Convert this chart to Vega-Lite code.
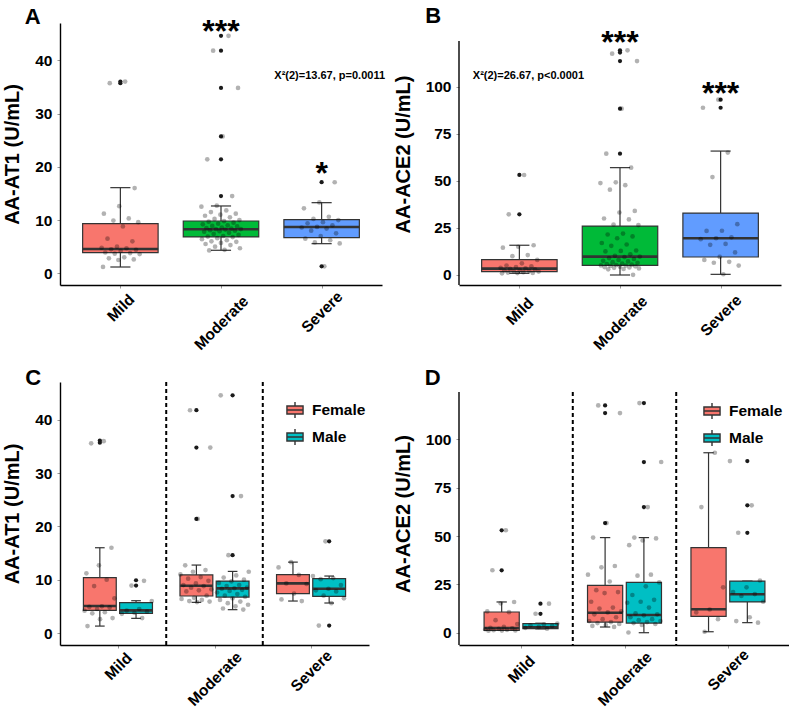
{
  "$schema": "https://vega.github.io/schema/vega-lite/v6.json",
  "background": "white",
  "padding": {"left": 2, "top": 5, "right": 0, "bottom": 0},
  "config": {
    "font": "Liberation Sans",
    "view": {"stroke": null},
    "axis": {
      "grid": false,
      "domainColor": "#000000",
      "domainWidth": 1.4,
      "tickColor": "#999999",
      "tickSize": 3,
      "labelFont": "Liberation Sans",
      "labelFontWeight": "bold",
      "labelColor": "#000000",
      "titleFont": "Liberation Sans",
      "titleFontWeight": "bold",
      "titleFontSize": 20,
      "titleColor": "#000000"
    },
    "axisX": {"labelFontSize": 15.5, "labelAngle": -45, "labelAlign": "center", "labelBaseline": "middle"},
    "axisY": {"labelFontSize": 15.5, "labelPadding": 5, "titlePadding": 12},
    "legend": {
      "symbolType": "M-1,-0.5H1V0.5H-1Z M-1,0H1 M0,-0.5V-1 M0,0.5V1",
      "symbolSize": 260,
      "symbolStrokeColor": "#333333",
      "symbolStrokeWidth": 1.4,
      "labelFont": "Liberation Sans",
      "labelFontSize": 15.5,
      "labelFontWeight": "bold",
      "labelColor": "#000000",
      "rowPadding": 5,
      "labelOffset": 8
    }
  },
  "datasets": {
    "A_box": [
      {"g": "Mild", "lo": 1.18, "q1": 3.87, "med": 4.56, "q3": 9.31, "hi": 16.08},
      {"g": "Moderate", "lo": 4.32, "q1": 6.82, "med": 8.26, "q3": 9.82, "hi": 12.64},
      {"g": "Severe", "lo": 5.56, "q1": 6.69, "med": 8.7, "q3": 10.07, "hi": 13.26}
    ],
    "A_out": [
      {"g": "Mild", "v": 36.0}, {"g": "Mild", "v": 35.7},
      {"g": "Moderate", "v": 44.6}, {"g": "Moderate", "v": 41.8}, {"g": "Moderate", "v": 34.8},
      {"g": "Moderate", "v": 25.7}, {"g": "Moderate", "v": 21.4}, {"g": "Moderate", "v": 14.5},
      {"g": "Severe", "v": 17.1}, {"g": "Severe", "v": 1.3}
    ],
    "A_pts": [
      {"g": "Mild", "v": 36.0}, {"g": "Mild", "v": 35.7}, {"g": "Mild", "v": 16.0}, {"g": "Mild", "v": 12.6},
      {"g": "Mild", "v": 11.2}, {"g": "Mild", "v": 10.3}, {"g": "Mild", "v": 9.9}, {"g": "Mild", "v": 9.6},
      {"g": "Mild", "v": 8.8}, {"g": "Mild", "v": 6.5}, {"g": "Mild", "v": 6.0}, {"g": "Mild", "v": 5.0},
      {"g": "Mild", "v": 4.8}, {"g": "Mild", "v": 4.7}, {"g": "Mild", "v": 4.5}, {"g": "Mild", "v": 4.4},
      {"g": "Mild", "v": 4.2}, {"g": "Mild", "v": 3.9}, {"g": "Mild", "v": 3.8}, {"g": "Mild", "v": 3.7},
      {"g": "Mild", "v": 3.6}, {"g": "Mild", "v": 3.0}, {"g": "Mild", "v": 2.8}, {"g": "Mild", "v": 2.6},
      {"g": "Mild", "v": 2.5}, {"g": "Mild", "v": 1.2},
      {"g": "Moderate", "v": 44.6}, {"g": "Moderate", "v": 41.8}, {"g": "Moderate", "v": 34.8}, {"g": "Moderate", "v": 25.7},
      {"g": "Moderate", "v": 21.4}, {"g": "Moderate", "v": 14.5}, {"g": "Moderate", "v": 12.7}, {"g": "Moderate", "v": 12.5},
      {"g": "Moderate", "v": 11.8}, {"g": "Moderate", "v": 11.5}, {"g": "Moderate", "v": 11.2}, {"g": "Moderate", "v": 11.0},
      {"g": "Moderate", "v": 10.8}, {"g": "Moderate", "v": 10.5}, {"g": "Moderate", "v": 10.2}, {"g": "Moderate", "v": 10.0},
      {"g": "Moderate", "v": 9.8}, {"g": "Moderate", "v": 9.7}, {"g": "Moderate", "v": 9.5}, {"g": "Moderate", "v": 9.3},
      {"g": "Moderate", "v": 9.2}, {"g": "Moderate", "v": 9.0}, {"g": "Moderate", "v": 8.9}, {"g": "Moderate", "v": 8.8},
      {"g": "Moderate", "v": 8.6}, {"g": "Moderate", "v": 8.5}, {"g": "Moderate", "v": 8.4}, {"g": "Moderate", "v": 8.3},
      {"g": "Moderate", "v": 8.3}, {"g": "Moderate", "v": 8.2}, {"g": "Moderate", "v": 8.1}, {"g": "Moderate", "v": 8.0},
      {"g": "Moderate", "v": 7.9}, {"g": "Moderate", "v": 7.8}, {"g": "Moderate", "v": 7.6}, {"g": "Moderate", "v": 7.4},
      {"g": "Moderate", "v": 7.2}, {"g": "Moderate", "v": 7.0}, {"g": "Moderate", "v": 6.9}, {"g": "Moderate", "v": 6.8},
      {"g": "Moderate", "v": 6.6}, {"g": "Moderate", "v": 6.4}, {"g": "Moderate", "v": 6.2}, {"g": "Moderate", "v": 6.0},
      {"g": "Moderate", "v": 5.9}, {"g": "Moderate", "v": 5.7}, {"g": "Moderate", "v": 5.5}, {"g": "Moderate", "v": 5.3},
      {"g": "Moderate", "v": 5.0}, {"g": "Moderate", "v": 4.7}, {"g": "Moderate", "v": 4.4}, {"g": "Moderate", "v": 4.3},
      {"g": "Severe", "v": 17.1}, {"g": "Severe", "v": 13.3}, {"g": "Severe", "v": 12.2}, {"g": "Severe", "v": 10.6},
      {"g": "Severe", "v": 10.2}, {"g": "Severe", "v": 10.0}, {"g": "Severe", "v": 9.6}, {"g": "Severe", "v": 9.4},
      {"g": "Severe", "v": 9.0}, {"g": "Severe", "v": 8.7}, {"g": "Severe", "v": 8.6}, {"g": "Severe", "v": 8.4},
      {"g": "Severe", "v": 8.0}, {"g": "Severe", "v": 7.5}, {"g": "Severe", "v": 7.0}, {"g": "Severe", "v": 6.5},
      {"g": "Severe", "v": 6.2}, {"g": "Severe", "v": 5.8}, {"g": "Severe", "v": 5.6}, {"g": "Severe", "v": 1.3}
    ],
    "B_box": [
      {"g": "Mild", "lo": 0.9, "q1": 1.77, "med": 3.36, "q3": 8.14, "hi": 15.8},
      {"g": "Moderate", "lo": 0.0, "q1": 5.13, "med": 9.74, "q3": 26.0, "hi": 57.0},
      {"g": "Severe", "lo": 0.35, "q1": 9.56, "med": 19.5, "q3": 32.9, "hi": 65.8}
    ],
    "B_out": [
      {"g": "Mild", "v": 53.1}, {"g": "Mild", "v": 32.2},
      {"g": "Moderate", "v": 119.3}, {"g": "Moderate", "v": 118.1}, {"g": "Moderate", "v": 113.6},
      {"g": "Moderate", "v": 88.3}, {"g": "Moderate", "v": 64.4},
      {"g": "Severe", "v": 93.1}, {"g": "Severe", "v": 88.8}
    ],
    "B_pts": [
      {"g": "Mild", "v": 53.1}, {"g": "Mild", "v": 32.2}, {"g": "Mild", "v": 15.8}, {"g": "Mild", "v": 15.0},
      {"g": "Mild", "v": 14.5}, {"g": "Mild", "v": 10.6}, {"g": "Mild", "v": 10.0}, {"g": "Mild", "v": 8.0},
      {"g": "Mild", "v": 6.2}, {"g": "Mild", "v": 5.0}, {"g": "Mild", "v": 4.6}, {"g": "Mild", "v": 4.2},
      {"g": "Mild", "v": 3.8}, {"g": "Mild", "v": 3.5}, {"g": "Mild", "v": 3.3}, {"g": "Mild", "v": 3.0},
      {"g": "Mild", "v": 2.8}, {"g": "Mild", "v": 2.5}, {"g": "Mild", "v": 2.2}, {"g": "Mild", "v": 2.0},
      {"g": "Mild", "v": 1.8}, {"g": "Mild", "v": 1.5}, {"g": "Mild", "v": 1.3}, {"g": "Mild", "v": 1.1},
      {"g": "Mild", "v": 1.0}, {"g": "Mild", "v": 0.9},
      {"g": "Moderate", "v": 119.3}, {"g": "Moderate", "v": 117.5}, {"g": "Moderate", "v": 113.6}, {"g": "Moderate", "v": 88.3},
      {"g": "Moderate", "v": 64.4}, {"g": "Moderate", "v": 57.0}, {"g": "Moderate", "v": 49.2}, {"g": "Moderate", "v": 48.8},
      {"g": "Moderate", "v": 47.7}, {"g": "Moderate", "v": 45.3}, {"g": "Moderate", "v": 34.0}, {"g": "Moderate", "v": 33.2},
      {"g": "Moderate", "v": 30.0}, {"g": "Moderate", "v": 29.5}, {"g": "Moderate", "v": 26.8}, {"g": "Moderate", "v": 26.5},
      {"g": "Moderate", "v": 22.0}, {"g": "Moderate", "v": 21.5}, {"g": "Moderate", "v": 20.5}, {"g": "Moderate", "v": 19.5},
      {"g": "Moderate", "v": 17.0}, {"g": "Moderate", "v": 16.2}, {"g": "Moderate", "v": 15.5}, {"g": "Moderate", "v": 13.0},
      {"g": "Moderate", "v": 12.8}, {"g": "Moderate", "v": 12.5}, {"g": "Moderate", "v": 11.0}, {"g": "Moderate", "v": 10.2},
      {"g": "Moderate", "v": 9.8}, {"g": "Moderate", "v": 9.5}, {"g": "Moderate", "v": 9.0}, {"g": "Moderate", "v": 8.5},
      {"g": "Moderate", "v": 8.0}, {"g": "Moderate", "v": 7.5}, {"g": "Moderate", "v": 7.2}, {"g": "Moderate", "v": 6.8},
      {"g": "Moderate", "v": 6.5}, {"g": "Moderate", "v": 6.0}, {"g": "Moderate", "v": 5.8}, {"g": "Moderate", "v": 5.5},
      {"g": "Moderate", "v": 5.3}, {"g": "Moderate", "v": 5.1}, {"g": "Moderate", "v": 5.0}, {"g": "Moderate", "v": 4.8},
      {"g": "Moderate", "v": 4.6}, {"g": "Moderate", "v": 4.4}, {"g": "Moderate", "v": 4.2}, {"g": "Moderate", "v": 4.0},
      {"g": "Moderate", "v": 3.8}, {"g": "Moderate", "v": 3.5}, {"g": "Moderate", "v": 3.2}, {"g": "Moderate", "v": 3.0},
      {"g": "Moderate", "v": 0.1},
      {"g": "Severe", "v": 93.1}, {"g": "Severe", "v": 88.8}, {"g": "Severe", "v": 65.0}, {"g": "Severe", "v": 52.0},
      {"g": "Severe", "v": 27.0}, {"g": "Severe", "v": 23.5}, {"g": "Severe", "v": 23.4}, {"g": "Severe", "v": 20.0},
      {"g": "Severe", "v": 19.5}, {"g": "Severe", "v": 19.0}, {"g": "Severe", "v": 16.5}, {"g": "Severe", "v": 16.0},
      {"g": "Severe", "v": 12.0}, {"g": "Severe", "v": 9.6}, {"g": "Severe", "v": 8.0}, {"g": "Severe", "v": 7.0},
      {"g": "Severe", "v": 6.5}, {"g": "Severe", "v": 5.0}, {"g": "Severe", "v": 0.4}
    ],
    "C_box": [
      {"g": "Mild", "s": "Female", "lo": 1.3, "q1": 4.25, "med": 5.06, "q3": 10.4, "hi": 16.0},
      {"g": "Mild", "s": "Male", "lo": 2.75, "q1": 3.69, "med": 4.25, "q3": 5.7, "hi": 6.06},
      {"g": "Moderate", "s": "Female", "lo": 5.75, "q1": 6.94, "med": 8.88, "q3": 10.9, "hi": 12.75},
      {"g": "Moderate", "s": "Male", "lo": 4.38, "q1": 6.75, "med": 8.38, "q3": 9.75, "hi": 11.56},
      {"g": "Severe", "s": "Female", "lo": 6.0, "q1": 7.38, "med": 9.31, "q3": 10.94, "hi": 13.3},
      {"g": "Severe", "s": "Male", "lo": 5.63, "q1": 6.88, "med": 8.31, "q3": 10.19, "hi": 10.69}
    ],
    "C_out": [
      {"g": "Mild", "s": "Female", "v": 36.1}, {"g": "Mild", "s": "Female", "v": 35.7},
      {"g": "Mild", "s": "Male", "v": 9.9}, {"g": "Mild", "s": "Male", "v": 8.9},
      {"g": "Moderate", "s": "Female", "v": 41.8}, {"g": "Moderate", "s": "Female", "v": 34.8}, {"g": "Moderate", "s": "Female", "v": 21.4},
      {"g": "Moderate", "s": "Male", "v": 44.6}, {"g": "Moderate", "s": "Male", "v": 25.7}, {"g": "Moderate", "s": "Male", "v": 14.6},
      {"g": "Severe", "s": "Male", "v": 17.2}, {"g": "Severe", "s": "Male", "v": 1.4}
    ],
    "C_pts": [
      {"g": "Mild", "s": "Female", "v": 36.0}, {"g": "Mild", "s": "Female", "v": 35.6}, {"g": "Mild", "s": "Female", "v": 16.0},
      {"g": "Mild", "s": "Female", "v": 12.7}, {"g": "Mild", "s": "Female", "v": 11.2}, {"g": "Mild", "s": "Female", "v": 10.0},
      {"g": "Mild", "s": "Female", "v": 8.8}, {"g": "Mild", "s": "Female", "v": 6.5}, {"g": "Mild", "s": "Female", "v": 5.0},
      {"g": "Mild", "s": "Female", "v": 4.9}, {"g": "Mild", "s": "Female", "v": 4.8}, {"g": "Mild", "s": "Female", "v": 4.5},
      {"g": "Mild", "s": "Female", "v": 4.2}, {"g": "Mild", "s": "Female", "v": 3.9}, {"g": "Mild", "s": "Female", "v": 3.7},
      {"g": "Mild", "s": "Female", "v": 2.8}, {"g": "Mild", "s": "Female", "v": 2.6}, {"g": "Mild", "s": "Female", "v": 1.3},
      {"g": "Mild", "s": "Male", "v": 9.8}, {"g": "Mild", "s": "Male", "v": 8.9}, {"g": "Mild", "s": "Male", "v": 6.0},
      {"g": "Mild", "s": "Male", "v": 4.5}, {"g": "Mild", "s": "Male", "v": 4.2}, {"g": "Mild", "s": "Male", "v": 4.0},
      {"g": "Mild", "s": "Male", "v": 3.8}, {"g": "Mild", "s": "Male", "v": 3.6}, {"g": "Mild", "s": "Male", "v": 2.8},
      {"g": "Moderate", "s": "Female", "v": 41.8}, {"g": "Moderate", "s": "Female", "v": 34.8}, {"g": "Moderate", "s": "Female", "v": 21.4},
      {"g": "Moderate", "s": "Female", "v": 12.7}, {"g": "Moderate", "s": "Female", "v": 11.8}, {"g": "Moderate", "s": "Female", "v": 11.5},
      {"g": "Moderate", "s": "Female", "v": 11.0}, {"g": "Moderate", "s": "Female", "v": 10.5}, {"g": "Moderate", "s": "Female", "v": 10.2},
      {"g": "Moderate", "s": "Female", "v": 9.8}, {"g": "Moderate", "s": "Female", "v": 9.3}, {"g": "Moderate", "s": "Female", "v": 9.0},
      {"g": "Moderate", "s": "Female", "v": 8.8}, {"g": "Moderate", "s": "Female", "v": 8.5}, {"g": "Moderate", "s": "Female", "v": 8.2},
      {"g": "Moderate", "s": "Female", "v": 8.0}, {"g": "Moderate", "s": "Female", "v": 7.8}, {"g": "Moderate", "s": "Female", "v": 7.0},
      {"g": "Moderate", "s": "Female", "v": 6.6}, {"g": "Moderate", "s": "Female", "v": 6.4}, {"g": "Moderate", "s": "Female", "v": 6.2},
      {"g": "Moderate", "s": "Female", "v": 6.0}, {"g": "Moderate", "s": "Female", "v": 5.9}, {"g": "Moderate", "s": "Female", "v": 5.8},
      {"g": "Moderate", "s": "Male", "v": 44.6}, {"g": "Moderate", "s": "Male", "v": 25.7}, {"g": "Moderate", "s": "Male", "v": 14.6},
      {"g": "Moderate", "s": "Male", "v": 11.5}, {"g": "Moderate", "s": "Male", "v": 10.8}, {"g": "Moderate", "s": "Male", "v": 10.4},
      {"g": "Moderate", "s": "Male", "v": 10.0}, {"g": "Moderate", "s": "Male", "v": 9.7}, {"g": "Moderate", "s": "Male", "v": 9.4},
      {"g": "Moderate", "s": "Male", "v": 9.0}, {"g": "Moderate", "s": "Male", "v": 8.8}, {"g": "Moderate", "s": "Male", "v": 8.5},
      {"g": "Moderate", "s": "Male", "v": 8.4}, {"g": "Moderate", "s": "Male", "v": 8.3}, {"g": "Moderate", "s": "Male", "v": 8.1},
      {"g": "Moderate", "s": "Male", "v": 7.9}, {"g": "Moderate", "s": "Male", "v": 7.6}, {"g": "Moderate", "s": "Male", "v": 7.3},
      {"g": "Moderate", "s": "Male", "v": 7.0}, {"g": "Moderate", "s": "Male", "v": 6.8}, {"g": "Moderate", "s": "Male", "v": 6.5},
      {"g": "Moderate", "s": "Male", "v": 6.2}, {"g": "Moderate", "s": "Male", "v": 5.9}, {"g": "Moderate", "s": "Male", "v": 5.6},
      {"g": "Moderate", "s": "Male", "v": 5.3}, {"g": "Moderate", "s": "Male", "v": 5.0}, {"g": "Moderate", "s": "Male", "v": 4.6},
      {"g": "Moderate", "s": "Male", "v": 4.4},
      {"g": "Severe", "s": "Female", "v": 13.3}, {"g": "Severe", "s": "Female", "v": 12.3}, {"g": "Severe", "s": "Female", "v": 10.9},
      {"g": "Severe", "s": "Female", "v": 9.3}, {"g": "Severe", "s": "Female", "v": 9.2}, {"g": "Severe", "s": "Female", "v": 7.4},
      {"g": "Severe", "s": "Female", "v": 6.3}, {"g": "Severe", "s": "Female", "v": 6.0},
      {"g": "Severe", "s": "Male", "v": 17.2}, {"g": "Severe", "s": "Male", "v": 10.7}, {"g": "Severe", "s": "Male", "v": 10.3},
      {"g": "Severe", "s": "Male", "v": 10.1}, {"g": "Severe", "s": "Male", "v": 9.0}, {"g": "Severe", "s": "Male", "v": 8.3},
      {"g": "Severe", "s": "Male", "v": 8.0}, {"g": "Severe", "s": "Male", "v": 7.8}, {"g": "Severe", "s": "Male", "v": 7.0},
      {"g": "Severe", "s": "Male", "v": 6.5}, {"g": "Severe", "s": "Male", "v": 5.6}, {"g": "Severe", "s": "Male", "v": 1.4}
    ],
    "D_box": [
      {"g": "Mild", "s": "Female", "lo": 1.2, "q1": 1.2, "med": 2.4, "q3": 10.7, "hi": 15.9},
      {"g": "Mild", "s": "Male", "lo": 2.0, "q1": 2.07, "med": 2.76, "q3": 4.66, "hi": 4.9},
      {"g": "Moderate", "s": "Female", "lo": 2.95, "q1": 5.5, "med": 10.35, "q3": 24.5, "hi": 49.2},
      {"g": "Moderate", "s": "Male", "lo": 0.0, "q1": 5.0, "med": 9.15, "q3": 26.07, "hi": 49.2},
      {"g": "Severe", "s": "Female", "lo": 0.5, "q1": 8.5, "med": 12.1, "q3": 44.0, "hi": 93.1},
      {"g": "Severe", "s": "Male", "lo": 5.2, "q1": 15.9, "med": 19.9, "q3": 26.7, "hi": 26.7}
    ],
    "D_out": [
      {"g": "Mild", "s": "Female", "v": 53.0}, {"g": "Mild", "s": "Female", "v": 32.3},
      {"g": "Mild", "s": "Male", "v": 15.0}, {"g": "Mild", "s": "Male", "v": 9.8},
      {"g": "Moderate", "s": "Female", "v": 117.6}, {"g": "Moderate", "s": "Female", "v": 113.6}, {"g": "Moderate", "s": "Female", "v": 56.7},
      {"g": "Moderate", "s": "Male", "v": 118.8}, {"g": "Moderate", "s": "Male", "v": 88.3}, {"g": "Moderate", "s": "Male", "v": 65.0},
      {"g": "Severe", "s": "Male", "v": 88.8}, {"g": "Severe", "s": "Male", "v": 65.9}, {"g": "Severe", "s": "Male", "v": 51.7}
    ],
    "D_pts": [
      {"g": "Mild", "s": "Female", "v": 53.0}, {"g": "Mild", "s": "Female", "v": 32.3}, {"g": "Mild", "s": "Female", "v": 15.9},
      {"g": "Mild", "s": "Female", "v": 15.2}, {"g": "Mild", "s": "Female", "v": 11.0}, {"g": "Mild", "s": "Female", "v": 10.6},
      {"g": "Mild", "s": "Female", "v": 6.5}, {"g": "Mild", "s": "Female", "v": 4.5}, {"g": "Mild", "s": "Female", "v": 3.0},
      {"g": "Mild", "s": "Female", "v": 2.5}, {"g": "Mild", "s": "Female", "v": 2.2}, {"g": "Mild", "s": "Female", "v": 2.0},
      {"g": "Mild", "s": "Female", "v": 1.8}, {"g": "Mild", "s": "Female", "v": 1.5}, {"g": "Mild", "s": "Female", "v": 1.3},
      {"g": "Mild", "s": "Female", "v": 1.2}, {"g": "Mild", "s": "Female", "v": 1.1}, {"g": "Mild", "s": "Female", "v": 1.0},
      {"g": "Mild", "s": "Male", "v": 15.0}, {"g": "Mild", "s": "Male", "v": 9.8}, {"g": "Mild", "s": "Male", "v": 4.7},
      {"g": "Mild", "s": "Male", "v": 4.2}, {"g": "Mild", "s": "Male", "v": 3.8}, {"g": "Mild", "s": "Male", "v": 3.5},
      {"g": "Mild", "s": "Male", "v": 3.0}, {"g": "Mild", "s": "Male", "v": 2.5}, {"g": "Mild", "s": "Male", "v": 2.1},
      {"g": "Moderate", "s": "Female", "v": 117.6}, {"g": "Moderate", "s": "Female", "v": 113.6}, {"g": "Moderate", "s": "Female", "v": 56.7},
      {"g": "Moderate", "s": "Female", "v": 49.2}, {"g": "Moderate", "s": "Female", "v": 34.5}, {"g": "Moderate", "s": "Female", "v": 33.8},
      {"g": "Moderate", "s": "Female", "v": 30.0}, {"g": "Moderate", "s": "Female", "v": 26.5}, {"g": "Moderate", "s": "Female", "v": 22.0},
      {"g": "Moderate", "s": "Female", "v": 21.0}, {"g": "Moderate", "s": "Female", "v": 20.5}, {"g": "Moderate", "s": "Female", "v": 16.0},
      {"g": "Moderate", "s": "Female", "v": 13.0}, {"g": "Moderate", "s": "Female", "v": 12.5}, {"g": "Moderate", "s": "Female", "v": 11.0},
      {"g": "Moderate", "s": "Female", "v": 10.5}, {"g": "Moderate", "s": "Female", "v": 9.5}, {"g": "Moderate", "s": "Female", "v": 8.0},
      {"g": "Moderate", "s": "Female", "v": 7.0}, {"g": "Moderate", "s": "Female", "v": 6.0}, {"g": "Moderate", "s": "Female", "v": 5.5},
      {"g": "Moderate", "s": "Female", "v": 5.0}, {"g": "Moderate", "s": "Female", "v": 4.5}, {"g": "Moderate", "s": "Female", "v": 4.0},
      {"g": "Moderate", "s": "Female", "v": 3.5}, {"g": "Moderate", "s": "Female", "v": 3.0},
      {"g": "Moderate", "s": "Male", "v": 118.8}, {"g": "Moderate", "s": "Male", "v": 88.3}, {"g": "Moderate", "s": "Male", "v": 65.0},
      {"g": "Moderate", "s": "Male", "v": 49.2}, {"g": "Moderate", "s": "Male", "v": 48.8}, {"g": "Moderate", "s": "Male", "v": 47.7},
      {"g": "Moderate", "s": "Male", "v": 45.3}, {"g": "Moderate", "s": "Male", "v": 30.0}, {"g": "Moderate", "s": "Male", "v": 29.5},
      {"g": "Moderate", "s": "Male", "v": 26.0}, {"g": "Moderate", "s": "Male", "v": 24.0}, {"g": "Moderate", "s": "Male", "v": 19.5},
      {"g": "Moderate", "s": "Male", "v": 17.0}, {"g": "Moderate", "s": "Male", "v": 16.0}, {"g": "Moderate", "s": "Male", "v": 15.5},
      {"g": "Moderate", "s": "Male", "v": 13.0}, {"g": "Moderate", "s": "Male", "v": 10.0}, {"g": "Moderate", "s": "Male", "v": 9.5},
      {"g": "Moderate", "s": "Male", "v": 9.0}, {"g": "Moderate", "s": "Male", "v": 8.0}, {"g": "Moderate", "s": "Male", "v": 7.0},
      {"g": "Moderate", "s": "Male", "v": 6.5}, {"g": "Moderate", "s": "Male", "v": 6.0}, {"g": "Moderate", "s": "Male", "v": 5.5},
      {"g": "Moderate", "s": "Male", "v": 5.0}, {"g": "Moderate", "s": "Male", "v": 4.5}, {"g": "Moderate", "s": "Male", "v": 4.0},
      {"g": "Moderate", "s": "Male", "v": 0.1},
      {"g": "Severe", "s": "Female", "v": 93.1}, {"g": "Severe", "s": "Female", "v": 65.0}, {"g": "Severe", "s": "Female", "v": 23.5},
      {"g": "Severe", "s": "Female", "v": 12.0}, {"g": "Severe", "s": "Female", "v": 10.5}, {"g": "Severe", "s": "Female", "v": 7.0},
      {"g": "Severe", "s": "Female", "v": 0.5},
      {"g": "Severe", "s": "Male", "v": 88.8}, {"g": "Severe", "s": "Male", "v": 65.9}, {"g": "Severe", "s": "Male", "v": 51.7},
      {"g": "Severe", "s": "Male", "v": 27.0}, {"g": "Severe", "s": "Male", "v": 23.5}, {"g": "Severe", "s": "Male", "v": 21.0},
      {"g": "Severe", "s": "Male", "v": 20.0}, {"g": "Severe", "s": "Male", "v": 19.0}, {"g": "Severe", "s": "Male", "v": 16.0},
      {"g": "Severe", "s": "Male", "v": 8.0}, {"g": "Severe", "s": "Male", "v": 6.0}, {"g": "Severe", "s": "Male", "v": 5.2}
    ]
  },
  "resolve": {"scale": {"fill": "independent"}, "legend": {"fill": "independent"}},
  "vconcat": [
    {
      "hconcat": [
        {
          "width": 322,
          "height": 262,
          "layer": [
            {
              "data": {"name": "A_box"},
              "transform": [{"calculate": "indexof(['Mild','Moderate','Severe'], datum.g) + 1", "as": "xi"}],
              "mark": {"type": "rule", "color": "#333333", "strokeWidth": 1.2},
              "encoding": {
                "x": {"field": "xi", "type": "quantitative", "title": null, "scale": {"domain": [0.4, 3.6], "nice": false, "zero": false},
                      "axis": {"values": [1, 2, 3], "labelExpr": "['','Mild','Moderate','Severe'][datum.value]", "labelAngle": -45, "labelAlign": "center", "labelBaseline": "middle",
                               "labelPadding": {"condition": [{"test": "datum.value == 1", "value": 19.5}, {"test": "datum.value == 2", "value": 34.5}], "value": 23.5}}},
                "y": {"field": "lo", "type": "quantitative", "title": "AA-AT1 (U/mL)", "scale": {"domain": [-2.2, 47], "nice": false, "zero": false}, "axis": {"values": [0, 10, 20, 30, 40]}},
                "y2": {"field": "hi"}
              }
            },
            {
              "data": {"name": "A_box"},
              "transform": [
                {"calculate": "indexof(['Mild','Moderate','Severe'], datum.g) + 1", "as": "xi"},
                {"calculate": "datum.xi - 0.1", "as": "ca"},
                {"calculate": "datum.xi + 0.1", "as": "cb"},
                {"fold": ["lo", "hi"], "as": ["end", "cap"]}
              ],
              "mark": {"type": "rule", "color": "#333333", "strokeWidth": 1.2},
              "encoding": {
                "x": {"field": "ca", "type": "quantitative", "title": null, "scale": {"domain": [0.4, 3.6], "nice": false, "zero": false}},
                "x2": {"field": "cb"},
                "y": {"field": "cap", "type": "quantitative", "title": "AA-AT1 (U/mL)", "scale": {"domain": [-2.2, 47], "nice": false, "zero": false}}
              }
            },
            {
              "data": {"name": "A_box"},
              "transform": [
                {"calculate": "indexof(['Mild','Moderate','Severe'], datum.g) + 1", "as": "xi"},
                {"calculate": "datum.xi - 0.375", "as": "xa"},
                {"calculate": "datum.xi + 0.375", "as": "xb"}
              ],
              "mark": {"type": "rect", "stroke": "#333333", "strokeWidth": 1.2, "opacity": 1},
              "encoding": {
                "x": {"field": "xa", "type": "quantitative", "title": null, "scale": {"domain": [0.4, 3.6], "nice": false, "zero": false}},
                "x2": {"field": "xb"},
                "y": {"field": "q1", "type": "quantitative", "title": "AA-AT1 (U/mL)", "scale": {"domain": [-2.2, 47], "nice": false, "zero": false}},
                "y2": {"field": "q3"},
                "fill": {"field": "g", "type": "nominal", "scale": {"domain": ["Mild", "Moderate", "Severe"], "range": ["#F8766D", "#00BA38", "#619CFF"]}, "legend": null}
              }
            },
            {
              "data": {"name": "A_box"},
              "transform": [
                {"calculate": "indexof(['Mild','Moderate','Severe'], datum.g) + 1", "as": "xi"},
                {"calculate": "datum.xi - 0.375", "as": "xa"},
                {"calculate": "datum.xi + 0.375", "as": "xb"}
              ],
              "mark": {"type": "rule", "color": "#333333", "strokeWidth": 2.6},
              "encoding": {
                "x": {"field": "xa", "type": "quantitative", "title": null, "scale": {"domain": [0.4, 3.6], "nice": false, "zero": false}},
                "x2": {"field": "xb"},
                "y": {"field": "med", "type": "quantitative", "title": "AA-AT1 (U/mL)", "scale": {"domain": [-2.2, 47], "nice": false, "zero": false}}
              }
            },
            {
              "data": {"name": "A_out"},
              "transform": [{"calculate": "indexof(['Mild','Moderate','Severe'], datum.g) + 1", "as": "xi"}],
              "mark": {"type": "circle", "color": "#1a1a1a", "opacity": 1, "size": 18},
              "encoding": {
                "x": {"field": "xi", "type": "quantitative", "title": null, "scale": {"domain": [0.4, 3.6], "nice": false, "zero": false}},
                "y": {"field": "v", "type": "quantitative", "title": "AA-AT1 (U/mL)", "scale": {"domain": [-2.2, 47], "nice": false, "zero": false}}
              }
            },
            {
              "data": {"name": "A_pts"},
              "transform": [
                {"window": [{"op": "row_number", "as": "rn"}]},
                {"calculate": "indexof(['Mild','Moderate','Severe'], datum.g) + 1 + ((datum.rn * 0.618034) % 1 - 0.5) * 0.4", "as": "jx"}
              ],
              "mark": {"type": "circle", "color": "#000000", "opacity": 0.3, "size": 22},
              "encoding": {
                "x": {"field": "jx", "type": "quantitative", "title": null, "scale": {"domain": [0.4, 3.6], "nice": false, "zero": false}},
                "y": {"field": "v", "type": "quantitative", "title": "AA-AT1 (U/mL)", "scale": {"domain": [-2.2, 47], "nice": false, "zero": false}}
              }
            },
            {
              "data": {"values": [{}]},
              "mark": {"type": "text", "fontSize": 32, "fontWeight": "bold", "baseline": "alphabetic", "align": "center", "color": "#000000"},
              "encoding": {
                "x": {"datum": 2, "type": "quantitative", "title": null, "scale": {"domain": [0.4, 3.6], "nice": false, "zero": false}},
                "y": {"datum": 43.5, "type": "quantitative", "title": "AA-AT1 (U/mL)", "scale": {"domain": [-2.2, 47], "nice": false, "zero": false}},
                "text": {"value": "***"}
              }
            },
            {
              "data": {"values": [{}]},
              "mark": {"type": "text", "fontSize": 32, "fontWeight": "bold", "baseline": "alphabetic", "align": "center", "color": "#000000"},
              "encoding": {
                "x": {"datum": 3, "type": "quantitative", "title": null, "scale": {"domain": [0.4, 3.6], "nice": false, "zero": false}},
                "y": {"datum": 16.7, "type": "quantitative", "title": "AA-AT1 (U/mL)", "scale": {"domain": [-2.2, 47], "nice": false, "zero": false}},
                "text": {"value": "*"}
              }
            },
            {
              "data": {"values": [{}]},
              "mark": {"type": "text", "fontSize": 11, "fontWeight": "bold", "baseline": "middle", "align": "center", "color": "#000000"},
              "encoding": {
                "x": {"datum": 3.08, "type": "quantitative", "title": null, "scale": {"domain": [0.4, 3.6], "nice": false, "zero": false}},
                "y": {"datum": 37.05, "type": "quantitative", "title": "AA-AT1 (U/mL)", "scale": {"domain": [-2.2, 47], "nice": false, "zero": false}},
                "text": {"value": "X²(2)=13.67, p=0.0011"}
              }
            },
            {
              "data": {"values": [{}]},
              "mark": {"type": "text", "fontSize": 22, "fontWeight": "bold", "baseline": "alphabetic", "align": "left", "color": "#000000"},
              "encoding": {
                "x": {"datum": 0.049, "type": "quantitative", "title": null, "scale": {"domain": [0.4, 3.6], "nice": false, "zero": false}},
                "y": {"datum": 46.8, "type": "quantitative", "title": "AA-AT1 (U/mL)", "scale": {"domain": [-2.2, 47], "nice": false, "zero": false}},
                "text": {"value": "A"}
              }
            }
          ]
        },
        {
          "width": 322,
          "height": 262,
          "layer": [
            {
              "data": {"name": "B_box"},
              "transform": [{"calculate": "indexof(['Mild','Moderate','Severe'], datum.g) + 1", "as": "xi"}],
              "mark": {"type": "rule", "color": "#333333", "strokeWidth": 1.2},
              "encoding": {
                "x": {"field": "xi", "type": "quantitative", "title": null, "scale": {"domain": [0.4, 3.6], "nice": false, "zero": false},
                      "axis": {"values": [1, 2, 3], "labelExpr": "['','Mild','Moderate','Severe'][datum.value]", "labelAngle": -45, "labelAlign": "center", "labelBaseline": "middle",
                               "labelPadding": {"condition": [{"test": "datum.value == 1", "value": 23}, {"test": "datum.value == 2", "value": 34.5}], "value": 27}}},
                "y": {"field": "lo", "type": "quantitative", "title": "AA-ACE2 (U/mL)", "scale": {"domain": [-5.31, 133.8], "nice": false, "zero": false}, "axis": {"values": [0, 25, 50, 75, 100], "domain": false}},
                "y2": {"field": "hi"}
              }
            },
            {
              "data": {"values": [{}]},
              "mark": {"type": "rule", "color": "#000000", "strokeWidth": 1.4},
              "encoding": {
                "x": {"datum": 0.4, "type": "quantitative", "title": null, "scale": {"domain": [0.4, 3.6], "nice": false, "zero": false}},
                "y": {"datum": -5.31, "type": "quantitative", "title": "AA-ACE2 (U/mL)", "scale": {"domain": [-5.31, 133.8], "nice": false, "zero": false}},
                "y2": {"datum": 124.3}
              }
            },
            {
              "data": {"name": "B_box"},
              "transform": [
                {"calculate": "indexof(['Mild','Moderate','Severe'], datum.g) + 1", "as": "xi"},
                {"calculate": "datum.xi - 0.1", "as": "ca"},
                {"calculate": "datum.xi + 0.1", "as": "cb"},
                {"fold": ["lo", "hi"], "as": ["end", "cap"]}
              ],
              "mark": {"type": "rule", "color": "#333333", "strokeWidth": 1.2},
              "encoding": {
                "x": {"field": "ca", "type": "quantitative", "title": null, "scale": {"domain": [0.4, 3.6], "nice": false, "zero": false}},
                "x2": {"field": "cb"},
                "y": {"field": "cap", "type": "quantitative", "title": "AA-ACE2 (U/mL)", "scale": {"domain": [-5.31, 133.8], "nice": false, "zero": false}}
              }
            },
            {
              "data": {"name": "B_box"},
              "transform": [
                {"calculate": "indexof(['Mild','Moderate','Severe'], datum.g) + 1", "as": "xi"},
                {"calculate": "datum.xi - 0.375", "as": "xa"},
                {"calculate": "datum.xi + 0.375", "as": "xb"}
              ],
              "mark": {"type": "rect", "stroke": "#333333", "strokeWidth": 1.2, "opacity": 1},
              "encoding": {
                "x": {"field": "xa", "type": "quantitative", "title": null, "scale": {"domain": [0.4, 3.6], "nice": false, "zero": false}},
                "x2": {"field": "xb"},
                "y": {"field": "q1", "type": "quantitative", "title": "AA-ACE2 (U/mL)", "scale": {"domain": [-5.31, 133.8], "nice": false, "zero": false}},
                "y2": {"field": "q3"},
                "fill": {"field": "g", "type": "nominal", "scale": {"domain": ["Mild", "Moderate", "Severe"], "range": ["#F8766D", "#00BA38", "#619CFF"]}, "legend": null}
              }
            },
            {
              "data": {"name": "B_box"},
              "transform": [
                {"calculate": "indexof(['Mild','Moderate','Severe'], datum.g) + 1", "as": "xi"},
                {"calculate": "datum.xi - 0.375", "as": "xa"},
                {"calculate": "datum.xi + 0.375", "as": "xb"}
              ],
              "mark": {"type": "rule", "color": "#333333", "strokeWidth": 2.6},
              "encoding": {
                "x": {"field": "xa", "type": "quantitative", "title": null, "scale": {"domain": [0.4, 3.6], "nice": false, "zero": false}},
                "x2": {"field": "xb"},
                "y": {"field": "med", "type": "quantitative", "title": "AA-ACE2 (U/mL)", "scale": {"domain": [-5.31, 133.8], "nice": false, "zero": false}}
              }
            },
            {
              "data": {"name": "B_out"},
              "transform": [{"calculate": "indexof(['Mild','Moderate','Severe'], datum.g) + 1", "as": "xi"}],
              "mark": {"type": "circle", "color": "#1a1a1a", "opacity": 1, "size": 18},
              "encoding": {
                "x": {"field": "xi", "type": "quantitative", "title": null, "scale": {"domain": [0.4, 3.6], "nice": false, "zero": false}},
                "y": {"field": "v", "type": "quantitative", "title": "AA-ACE2 (U/mL)", "scale": {"domain": [-5.31, 133.8], "nice": false, "zero": false}}
              }
            },
            {
              "data": {"name": "B_pts"},
              "transform": [
                {"window": [{"op": "row_number", "as": "rn"}]},
                {"calculate": "indexof(['Mild','Moderate','Severe'], datum.g) + 1 + ((datum.rn * 0.618034) % 1 - 0.5) * 0.4", "as": "jx"}
              ],
              "mark": {"type": "circle", "color": "#000000", "opacity": 0.3, "size": 22},
              "encoding": {
                "x": {"field": "jx", "type": "quantitative", "title": null, "scale": {"domain": [0.4, 3.6], "nice": false, "zero": false}},
                "y": {"field": "v", "type": "quantitative", "title": "AA-ACE2 (U/mL)", "scale": {"domain": [-5.31, 133.8], "nice": false, "zero": false}}
              }
            },
            {
              "data": {"values": [{}]},
              "mark": {"type": "text", "fontSize": 32, "fontWeight": "bold", "baseline": "alphabetic", "align": "center", "color": "#000000"},
              "encoding": {
                "x": {"datum": 2, "type": "quantitative", "title": null, "scale": {"domain": [0.4, 3.6], "nice": false, "zero": false}},
                "y": {"datum": 117.7, "type": "quantitative", "title": "AA-ACE2 (U/mL)", "scale": {"domain": [-5.31, 133.8], "nice": false, "zero": false}},
                "text": {"value": "***"}
              }
            },
            {
              "data": {"values": [{}]},
              "mark": {"type": "text", "fontSize": 32, "fontWeight": "bold", "baseline": "alphabetic", "align": "center", "color": "#000000"},
              "encoding": {
                "x": {"datum": 3, "type": "quantitative", "title": null, "scale": {"domain": [0.4, 3.6], "nice": false, "zero": false}},
                "y": {"datum": 90.6, "type": "quantitative", "title": "AA-ACE2 (U/mL)", "scale": {"domain": [-5.31, 133.8], "nice": false, "zero": false}},
                "text": {"value": "***"}
              }
            },
            {
              "data": {"values": [{}]},
              "mark": {"type": "text", "fontSize": 11, "fontWeight": "bold", "baseline": "middle", "align": "center", "color": "#000000"},
              "encoding": {
                "x": {"datum": 1.09, "type": "quantitative", "title": null, "scale": {"domain": [0.4, 3.6], "nice": false, "zero": false}},
                "y": {"datum": 105.7, "type": "quantitative", "title": "AA-ACE2 (U/mL)", "scale": {"domain": [-5.31, 133.8], "nice": false, "zero": false}},
                "text": {"value": "X²(2)=26.67, p<0.0001"}
              }
            },
            {
              "data": {"values": [{}]},
              "mark": {"type": "text", "fontSize": 22, "fontWeight": "bold", "baseline": "alphabetic", "align": "left", "color": "#000000"},
              "encoding": {
                "x": {"datum": 0.065, "type": "quantitative", "title": null, "scale": {"domain": [0.4, 3.6], "nice": false, "zero": false}},
                "y": {"datum": 133.8, "type": "quantitative", "title": "AA-ACE2 (U/mL)", "scale": {"domain": [-5.31, 133.8], "nice": false, "zero": false}},
                "text": {"value": "B"}
              }
            }
          ]
        }
      ],
      "spacing": 7
    },
    {
      "resolve": {"scale": {"fill": "independent"}, "legend": {"fill": "independent"}},
      "hconcat": [
        {
          "width": 309,
          "height": 263,
          "layer": [
            {
              "data": {"values": [{"b": 1.5}, {"b": 2.5}]},
              "mark": {"type": "rule", "color": "#000000", "strokeWidth": 2, "strokeDash": [4, 3]},
              "encoding": {
                "x": {"field": "b", "type": "quantitative", "title": null, "scale": {"domain": [0.4, 3.6], "nice": false, "zero": false},
                      "axis": {"values": [1, 2, 3], "labelExpr": "['','Mild','Moderate','Severe'][datum.value]", "labelAngle": -45, "labelAlign": "center", "labelBaseline": "middle",
                               "labelPadding": {"condition": [{"test": "datum.value == 1", "value": 18}, {"test": "datum.value == 2", "value": 30.5}], "value": 22.5}}}
              }
            },
            {
              "data": {"name": "C_box"},
              "transform": [{"calculate": "indexof(['Mild','Moderate','Severe'], datum.g) + 1 + (datum.s == 'Female' ? -0.1875 : 0.1875)", "as": "xi"}],
              "mark": {"type": "rule", "color": "#333333", "strokeWidth": 1.2},
              "encoding": {
                "x": {"field": "xi", "type": "quantitative", "title": null, "scale": {"domain": [0.4, 3.6], "nice": false, "zero": false}},
                "y": {"field": "lo", "type": "quantitative", "title": "AA-AT1 (U/mL)", "scale": {"domain": [-2.25, 47.1], "nice": false, "zero": false}, "axis": {"values": [0, 10, 20, 30, 40]}},
                "y2": {"field": "hi"}
              }
            },
            {
              "data": {"name": "C_box"},
              "transform": [
                {"calculate": "indexof(['Mild','Moderate','Severe'], datum.g) + 1 + (datum.s == 'Female' ? -0.1875 : 0.1875)", "as": "xi"},
                {"calculate": "datum.xi - 0.05", "as": "ca"},
                {"calculate": "datum.xi + 0.05", "as": "cb"},
                {"fold": ["lo", "hi"], "as": ["end", "cap"]}
              ],
              "mark": {"type": "rule", "color": "#333333", "strokeWidth": 1.2},
              "encoding": {
                "x": {"field": "ca", "type": "quantitative", "title": null, "scale": {"domain": [0.4, 3.6], "nice": false, "zero": false}},
                "x2": {"field": "cb"},
                "y": {"field": "cap", "type": "quantitative", "title": "AA-AT1 (U/mL)", "scale": {"domain": [-2.25, 47.1], "nice": false, "zero": false}}
              }
            },
            {
              "data": {"name": "C_box"},
              "transform": [
                {"calculate": "indexof(['Mild','Moderate','Severe'], datum.g) + 1 + (datum.s == 'Female' ? -0.1875 : 0.1875)", "as": "xi"},
                {"calculate": "datum.xi - 0.17", "as": "xa"},
                {"calculate": "datum.xi + 0.17", "as": "xb"}
              ],
              "mark": {"type": "rect", "stroke": "#333333", "strokeWidth": 1.2, "opacity": 1},
              "encoding": {
                "x": {"field": "xa", "type": "quantitative", "title": null, "scale": {"domain": [0.4, 3.6], "nice": false, "zero": false}},
                "x2": {"field": "xb"},
                "y": {"field": "q1", "type": "quantitative", "title": "AA-AT1 (U/mL)", "scale": {"domain": [-2.25, 47.1], "nice": false, "zero": false}},
                "y2": {"field": "q3"},
                "fill": {"field": "s", "type": "nominal", "scale": {"domain": ["Female", "Male"], "range": ["#F8766D", "#00BFC4"]},
                         "legend": {"title": null, "orient": "none", "legendX": 226, "legendY": 19}}
              }
            },
            {
              "data": {"name": "C_box"},
              "transform": [
                {"calculate": "indexof(['Mild','Moderate','Severe'], datum.g) + 1 + (datum.s == 'Female' ? -0.1875 : 0.1875)", "as": "xi"},
                {"calculate": "datum.xi - 0.17", "as": "xa"},
                {"calculate": "datum.xi + 0.17", "as": "xb"}
              ],
              "mark": {"type": "rule", "color": "#333333", "strokeWidth": 2.6},
              "encoding": {
                "x": {"field": "xa", "type": "quantitative", "title": null, "scale": {"domain": [0.4, 3.6], "nice": false, "zero": false}},
                "x2": {"field": "xb"},
                "y": {"field": "med", "type": "quantitative", "title": "AA-AT1 (U/mL)", "scale": {"domain": [-2.25, 47.1], "nice": false, "zero": false}}
              }
            },
            {
              "data": {"name": "C_out"},
              "transform": [{"calculate": "indexof(['Mild','Moderate','Severe'], datum.g) + 1 + (datum.s == 'Female' ? -0.1875 : 0.1875)", "as": "xi"}],
              "mark": {"type": "circle", "color": "#1a1a1a", "opacity": 1, "size": 18},
              "encoding": {
                "x": {"field": "xi", "type": "quantitative", "title": null, "scale": {"domain": [0.4, 3.6], "nice": false, "zero": false}},
                "y": {"field": "v", "type": "quantitative", "title": "AA-AT1 (U/mL)", "scale": {"domain": [-2.25, 47.1], "nice": false, "zero": false}}
              }
            },
            {
              "data": {"name": "C_pts"},
              "transform": [
                {"window": [{"op": "row_number", "as": "rn"}]},
                {"calculate": "indexof(['Mild','Moderate','Severe'], datum.g) + 1 + (datum.s == 'Female' ? -0.1875 : 0.1875) + ((datum.rn * 0.618034) % 1 - 0.5) * 0.34", "as": "jx"}
              ],
              "mark": {"type": "circle", "color": "#000000", "opacity": 0.3, "size": 22},
              "encoding": {
                "x": {"field": "jx", "type": "quantitative", "title": null, "scale": {"domain": [0.4, 3.6], "nice": false, "zero": false}},
                "y": {"field": "v", "type": "quantitative", "title": "AA-AT1 (U/mL)", "scale": {"domain": [-2.25, 47.1], "nice": false, "zero": false}}
              }
            },
            {
              "data": {"values": [{}]},
              "mark": {"type": "text", "fontSize": 22, "fontWeight": "bold", "baseline": "alphabetic", "align": "left", "color": "#000000"},
              "encoding": {
                "x": {"datum": 0.041, "type": "quantitative", "title": null, "scale": {"domain": [0.4, 3.6], "nice": false, "zero": false}},
                "y": {"datum": 46.5, "type": "quantitative", "title": "AA-AT1 (U/mL)", "scale": {"domain": [-2.25, 47.1], "nice": false, "zero": false}},
                "text": {"value": "C"}
              }
            }
          ]
        },
        {
          "width": 331,
          "height": 263,
          "layer": [
            {
              "data": {"values": [{"b": 1.5}, {"b": 2.5}]},
              "mark": {"type": "rule", "color": "#000000", "strokeWidth": 2, "strokeDash": [4, 3]},
              "encoding": {
                "x": {"field": "b", "type": "quantitative", "title": null, "scale": {"domain": [0.4, 3.6], "nice": false, "zero": false},
                      "axis": {"values": [1, 2, 3], "labelExpr": "['','Mild','Moderate','Severe'][datum.value]", "labelAngle": -45, "labelAlign": "center", "labelBaseline": "middle",
                               "labelPadding": {"condition": [{"test": "datum.value == 1", "value": 21}, {"test": "datum.value == 2", "value": 30.5}], "value": 21.5}}},
                "y": {"datum": 124.5, "type": "quantitative", "title": "AA-ACE2 (U/mL)", "scale": {"domain": [-6.36, 129.7], "nice": false, "zero": false}},
                "y2": {"datum": -6.36}
              }
            },
            {
              "data": {"values": [{}]},
              "mark": {"type": "rule", "color": "#000000", "strokeWidth": 1.4},
              "encoding": {
                "x": {"datum": 0.4, "type": "quantitative", "title": null, "scale": {"domain": [0.4, 3.6], "nice": false, "zero": false}},
                "y": {"datum": -6.36, "type": "quantitative", "title": "AA-ACE2 (U/mL)", "scale": {"domain": [-6.36, 129.7], "nice": false, "zero": false}},
                "y2": {"datum": 124.5}
              }
            },
            {
              "data": {"name": "D_box"},
              "transform": [{"calculate": "indexof(['Mild','Moderate','Severe'], datum.g) + 1 + (datum.s == 'Female' ? -0.1875 : 0.1875)", "as": "xi"}],
              "mark": {"type": "rule", "color": "#333333", "strokeWidth": 1.2},
              "encoding": {
                "x": {"field": "xi", "type": "quantitative", "title": null, "scale": {"domain": [0.4, 3.6], "nice": false, "zero": false}},
                "y": {"field": "lo", "type": "quantitative", "title": "AA-ACE2 (U/mL)", "scale": {"domain": [-6.36, 129.7], "nice": false, "zero": false}, "axis": {"values": [0, 25, 50, 75, 100], "domain": false}},
                "y2": {"field": "hi"}
              }
            },
            {
              "data": {"name": "D_box"},
              "transform": [
                {"calculate": "indexof(['Mild','Moderate','Severe'], datum.g) + 1 + (datum.s == 'Female' ? -0.1875 : 0.1875)", "as": "xi"},
                {"calculate": "datum.xi - 0.05", "as": "ca"},
                {"calculate": "datum.xi + 0.05", "as": "cb"},
                {"fold": ["lo", "hi"], "as": ["end", "cap"]}
              ],
              "mark": {"type": "rule", "color": "#333333", "strokeWidth": 1.2},
              "encoding": {
                "x": {"field": "ca", "type": "quantitative", "title": null, "scale": {"domain": [0.4, 3.6], "nice": false, "zero": false}},
                "x2": {"field": "cb"},
                "y": {"field": "cap", "type": "quantitative", "title": "AA-ACE2 (U/mL)", "scale": {"domain": [-6.36, 129.7], "nice": false, "zero": false}}
              }
            },
            {
              "data": {"name": "D_box"},
              "transform": [
                {"calculate": "indexof(['Mild','Moderate','Severe'], datum.g) + 1 + (datum.s == 'Female' ? -0.1875 : 0.1875)", "as": "xi"},
                {"calculate": "datum.xi - 0.17", "as": "xa"},
                {"calculate": "datum.xi + 0.17", "as": "xb"}
              ],
              "mark": {"type": "rect", "stroke": "#333333", "strokeWidth": 1.2, "opacity": 1},
              "encoding": {
                "x": {"field": "xa", "type": "quantitative", "title": null, "scale": {"domain": [0.4, 3.6], "nice": false, "zero": false}},
                "x2": {"field": "xb"},
                "y": {"field": "q1", "type": "quantitative", "title": "AA-ACE2 (U/mL)", "scale": {"domain": [-6.36, 129.7], "nice": false, "zero": false}},
                "y2": {"field": "q3"},
                "fill": {"field": "s", "type": "nominal", "scale": {"domain": ["Female", "Male"], "range": ["#F8766D", "#00BFC4"]},
                         "legend": {"title": null, "orient": "none", "legendX": 244, "legendY": 20}}
              }
            },
            {
              "data": {"name": "D_box"},
              "transform": [
                {"calculate": "indexof(['Mild','Moderate','Severe'], datum.g) + 1 + (datum.s == 'Female' ? -0.1875 : 0.1875)", "as": "xi"},
                {"calculate": "datum.xi - 0.17", "as": "xa"},
                {"calculate": "datum.xi + 0.17", "as": "xb"}
              ],
              "mark": {"type": "rule", "color": "#333333", "strokeWidth": 2.6},
              "encoding": {
                "x": {"field": "xa", "type": "quantitative", "title": null, "scale": {"domain": [0.4, 3.6], "nice": false, "zero": false}},
                "x2": {"field": "xb"},
                "y": {"field": "med", "type": "quantitative", "title": "AA-ACE2 (U/mL)", "scale": {"domain": [-6.36, 129.7], "nice": false, "zero": false}}
              }
            },
            {
              "data": {"name": "D_out"},
              "transform": [{"calculate": "indexof(['Mild','Moderate','Severe'], datum.g) + 1 + (datum.s == 'Female' ? -0.1875 : 0.1875)", "as": "xi"}],
              "mark": {"type": "circle", "color": "#1a1a1a", "opacity": 1, "size": 18},
              "encoding": {
                "x": {"field": "xi", "type": "quantitative", "title": null, "scale": {"domain": [0.4, 3.6], "nice": false, "zero": false}},
                "y": {"field": "v", "type": "quantitative", "title": "AA-ACE2 (U/mL)", "scale": {"domain": [-6.36, 129.7], "nice": false, "zero": false}}
              }
            },
            {
              "data": {"name": "D_pts"},
              "transform": [
                {"window": [{"op": "row_number", "as": "rn"}]},
                {"calculate": "indexof(['Mild','Moderate','Severe'], datum.g) + 1 + (datum.s == 'Female' ? -0.1875 : 0.1875) + ((datum.rn * 0.618034) % 1 - 0.5) * 0.34", "as": "jx"}
              ],
              "mark": {"type": "circle", "color": "#000000", "opacity": 0.3, "size": 22},
              "encoding": {
                "x": {"field": "jx", "type": "quantitative", "title": null, "scale": {"domain": [0.4, 3.6], "nice": false, "zero": false}},
                "y": {"field": "v", "type": "quantitative", "title": "AA-ACE2 (U/mL)", "scale": {"domain": [-6.36, 129.7], "nice": false, "zero": false}}
              }
            },
            {
              "data": {"values": [{}]},
              "mark": {"type": "text", "fontSize": 22, "fontWeight": "bold", "baseline": "alphabetic", "align": "left", "color": "#000000"},
              "encoding": {
                "x": {"datum": 0.068, "type": "quantitative", "title": null, "scale": {"domain": [0.4, 3.6], "nice": false, "zero": false}},
                "y": {"datum": 128.1, "type": "quantitative", "title": "AA-ACE2 (U/mL)", "scale": {"domain": [-6.36, 129.7], "nice": false, "zero": false}},
                "text": {"value": "D"}
              }
            }
          ]
        }
      ],
      "spacing": 24
    }
  ],
  "spacing": 14
}
